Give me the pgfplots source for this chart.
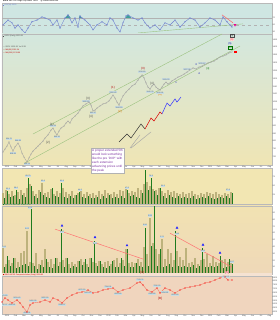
\documentclass[border=0pt]{standalone}
\usepackage{pgfplots}
\pgfplotsset{compat=1.18}
\usepackage{fontspec}
\setmainfont{Liberation Sans}
\definecolor{oscbg}{HTML}{CFE6E2}
\definecolor{pricetop}{HTML}{D3E7DE}
\definecolor{pricebot}{HTML}{EFE5B4}
\definecolor{vol1bg}{HTML}{F2E6B2}
\definecolor{vol2top}{HTML}{F1E2B2}
\definecolor{vol2bot}{HTML}{EFD8B8}
\definecolor{redbg}{HTML}{F0D5BE}
\definecolor{oscline}{HTML}{6F7FD0}
\definecolor{oscfill}{HTML}{3E9E9A}
\definecolor{chan}{HTML}{9CC27F}
\definecolor{volgreen}{HTML}{1E7B1E}
\definecolor{vololive}{HTML}{BDB27C}
\definecolor{redline}{HTML}{F07A6A}
\definecolor{labbg}{HTML}{C9DCE2}
\definecolor{labtxt}{HTML}{4A6070}
\definecolor{boxpurple}{HTML}{7A2E9E}
\newcommand{\tf}{\fontsize{2}{2.4}\selectfont}
\newcommand{\lf}{\fontsize{1.9}{2.2}\selectfont}
\tikzset{lab/.style={font=\lf, fill=labbg, text=labtxt, inner sep=0.35pt}}
\begin{document}
\begin{tikzpicture}[x=1pt,y=1pt]
\useasboundingbox (0,0) rectangle (280,320);
\fill[white] (0,0) rectangle (280,320);
\pgfplotsset{panel/.style={scale only axis, width=270pt, xmin=2, xmax=272,
  anchor=north west, axis line style={gray!55, line width=0.3pt},
  xtick=\empty, yticklabel pos=right, tick style={draw=none},
  yticklabel style={font=\tf, text=gray!60!black, inner sep=0.5pt},
  /pgf/number format/1000 sep={}, /pgf/number format/assume math mode=true}}
% header
\node[anchor=west, font=\tf, inner sep=0] at (3,318.6) {\textbf{\$SPX} S\&P 500 Large Cap Index \ INDX \quad @ StockCharts.com};
\node[anchor=east, font=\tf, inner sep=0] at (271,314.6) {Open 1330.97 \ High 1332.82 \ Low 1325.04 \ Close 1325.83 \ Chg -5.27 (-0.40\%)};

% ---------- oscillator ----------
\begin{axis}[panel, at={(2pt,317pt)}, height=31pt, ymin=24, ymax=113, ytick={30,50,70},
  axis background/.style={fill=oscbg}]
\addplot[gray!60, line width=0.3pt] coordinates {(2,70)(272,70)};
\addplot[gray!60, dashed, line width=0.3pt] coordinates {(2,50)(272,50)};
\addplot[gray!55, line width=0.6pt] coordinates {(2,27)(272,27)};
\addplot[chan, line width=0.4pt] coordinates {(138,27)(243,53)};
\addplot[fill=oscfill, draw=oscfill, line width=0.2pt] coordinates {(65.5,70)(68,79)(70.5,70)} -- cycle;
\addplot[fill=oscfill, draw=oscfill, line width=0.2pt] coordinates {(79,70)(80,76)(81.5,70)} -- cycle;
\addplot[fill=oscfill, draw=oscfill, line width=0.2pt] coordinates {(125.5,70)(128,79)(131,70)} -- cycle;
\addplot[oscline, line width=0.4pt, mark=*, mark size=0.3pt] coordinates {
(3,50)(8,64)(12,56)(15,41)(18,50)(22,36)(25,27)(28,41)(32,59)(37,64)(42,73)(45,70)
(50,64)(53,50)(57,64)(60,41)(65,70)(68,79)(72,56)(75,70)(78,44)(80,76)(82,70)(85,64)
(90,50)(93,36)(97,50)(102,59)(107,50)(110,70)(113,64)(117,41)(120,30)(123,56)(126,76)
(128,79)(133,70)(138,64)(142,70)(145,56)(150,41)(155,50)(160,36)(165,56)(170,50)
(175,64)(180,44)(185,59)(190,70)(195,64)(200,44)(205,56)(210,70)(215,64)(220,50)
(223,73)(227,59)(230,50)(232,44)};
\addplot[red!60, line width=0.5pt] coordinates {(222,79)(233,56)};
\addplot[only marks, mark=triangle*, mark options={rotate=180, fill=magenta, draw=magenta}, mark size=1.2pt] coordinates {(235,50)};
\node[anchor=west, font=\lf, inner sep=0, text=oscline] at (axis cs:3,106) {\rule{1pt}{1pt} RSI(14) 58.53};
\end{axis}

% ---------- price ----------
\begin{axis}[panel, at={(2pt,286pt)}, height=131pt, ymin=648, ymax=1485,
  ytick={700,750,...,1450},
  xtick={7,15.5,24,32.4,40.9,49.4,57.8,66.3,74.8,83.2,91.7,100.2,108.6,117.1,125.6,134,142.5,151,159.4,167.9,176.4,184.8,193.3,201.8,210.2,218.7,227.2,235.6,244.1,252.6,261,269.5},
  xticklabels={2009,Feb,Mar,Apr,May,Jun,Jul,Aug,Sep,Oct,Nov,Dec,2010,Feb,Mar,Apr,May,Jun,Jul,Aug,Sep,Oct,Nov,Dec,2011,Feb,Mar,Apr,May,Jun,Jul,Aug},
  xticklabel style={font=\tf, text=gray!60!black, inner sep=0.5pt},
  axis background/.style={shade, top color=pricetop, bottom color=pricebot}]
\addplot[chan, line width=0.4pt] coordinates {(33,846)(222,1485)};
\addplot[chan, line width=0.4pt] coordinates {(25,661)(240,1408)};
\addplot[gray!75, line width=0.35pt, mark=*, mark size=0.25pt] coordinates {
(3,731)(5,750)(7,769)(9,795)(11,763)(13,737)(15,763)(18,788)(20,763)(22,724)(24,699)(27,667)
(29,693)(31,718)(33,737)(36,756)(38,769)(40,782)(43,801)(45,820)(48,840)(51,871)(53,884)
(55,859)(57,840)(59,865)(61,884)(64,897)(66,916)(68,929)(70,916)(72,942)(75,961)(78,980)
(80,999)(83,1025)(86,1038)(89,1050)(91,1031)(93,993)(95,999)(97,1012)(100,1025)(103,1038)
(106,1044)(109,1057)(111,1076)(113,1095)(115,1076)(117,1050)(119,1031)(121,1063)(123,1089)
(126,1114)(129,1133)(132,1153)(135,1165)(138,1191)(140,1210)(142,1223)(144,1204)(146,1172)
(148,1146)(150,1133)(152,1153)(154,1165)(156,1146)(158,1135)(160,1127)(162,1146)(164,1165)
(166,1178)(168,1165)(170,1172)(172,1185)(175,1197)(178,1210)(181,1217)(184,1229)(187,1242)
(190,1255)(193,1268)(196,1261)(199,1274)(202,1280)(205,1293)(208,1300)(211,1306)(214,1312)
(217,1325)(220,1338)(223,1344)(226,1351)(229,1364)(232,1370)};
% projected extended fifth
\addplot[gray!70, line width=0.45pt] coordinates {(131,756)(151,859)};
\addplot[gray!70, line width=0.45pt] coordinates {(130,756)(140,840)};
\addplot[black!80, line width=0.5pt] coordinates {(119,795)(127,846)(131,820)(141,910)(145,878)};
\addplot[red!85!black, line width=0.5pt] coordinates {(145,878)(151,948)(154,929)(160,987)(162,974)};
\addplot[blue!80, line width=0.5pt] coordinates {(162,974)(167,1044)(170,1025)(175,1070)(177,1050)(181,1082)};
% wave labels
\node[font=\fontsize{3}{3}\selectfont, text=gray!60!black] at (axis cs:52,905) {[1]};
\node[font=\fontsize{3}{3}\selectfont, text=gray!60!black] at (axis cs:48,790) {[2]};
\node[font=\fontsize{3}{3}\selectfont, text=gray!60!black] at (axis cs:88,1070) {[3]};
\node[font=\fontsize{3}{3}\selectfont, text=gray!60!black] at (axis cs:91,955) {[4]};
\node[font=\fontsize{3}{3}\selectfont, text=red!70!black] at (axis cs:113,1140) {(1)};
\node[font=\fontsize{3}{3}\selectfont, text=orange!90!black] at (axis cs:120,990) {(2)};
\node[font=\fontsize{3}{3}\selectfont, text=red!70!black] at (axis cs:143,1262) {(3)};
\node[font=\fontsize{3}{3}\selectfont, text=gray!60!black] at (axis cs:152,1165) {[4]};
\node[font=\fontsize{3}{3}\selectfont, text=orange!90!black] at (axis cs:160,1095) {(4)};
\node[font=\fontsize{2.6}{3}\selectfont, text=blue!70!black] at (axis cs:176,1172) {1};
\node[font=\fontsize{2.6}{3}\selectfont, text=blue!70!black] at (axis cs:196,1292) {3};
\node[font=\fontsize{2.6}{3}\selectfont, text=blue!70!black] at (axis cs:199,1232) {4};
\node[font=\fontsize{2.6}{3}\selectfont, text=green!45!black] at (axis cs:208,1262) {[ii]};
\node[font=\fontsize{2.6}{3}\selectfont, text=green!45!black, draw=green!45!black, inner sep=0.3pt] at (axis cs:230,1395) {(iv)};
\node[font=\fontsize{2.6}{3}\selectfont, text=blue!70!black] at (axis cs:230,1425) {(5)};
\node[font=\fontsize{2.6}{3}\selectfont, text=red!70, fill=red!15, inner sep=0.3pt] at (axis cs:232,1448) {(b)};
\node[font=\fontsize{2.6}{3}\selectfont, text=gray!50!black, draw=gray!60!black, inner sep=0.3pt] at (axis cs:232,1472) {[5]};
\addplot[only marks, mark=square*, mark options={fill=red, draw=red}, mark size=0.9pt] coordinates {(235,1372)};
% price labels
\node[lab] at (axis cs:9,812) {934.70};
\node[lab] at (axis cs:13,722) {818.69};
\node[lab] at (axis cs:18,805) {944.69};
\node[lab] at (axis cs:27,655) {666.79};
\node[lab] at (axis cs:53,900) {956.23};
\node[lab] at (axis cs:57,825) {869.32};
\node[lab] at (axis cs:86,1054) {1080.15};
\node[lab] at (axis cs:93,978) {991.97};
\node[lab] at (axis cs:113,1112) {1150.45};
\node[lab] at (axis cs:119,1016) {1044.50};
\node[lab] at (axis cs:142,1240) {1219.80};
\node[lab] at (axis cs:150,1117) {1040.78};
\node[lab] at (axis cs:160,1111) {1010.91};
\node[lab] at (axis cs:166,1195) {1131.23};
\node[lab] at (axis cs:187,1259) {1227.08};
\node[lab] at (axis cs:202,1297) {1276.17};
\node[anchor=west, font=\lf, inner sep=0, text=gray!60!black] at (axis cs:3,1470) {\rule{1pt}{1pt} \$SPX (Daily) 1325.83};
\node[anchor=west, font=\lf, inner sep=0, text=gray!60!black] at (axis cs:3,1402) {--- \$SPX 1325.83 \ Vol 3.2B};
\node[anchor=west, font=\lf, inner sep=0, text=red!75!black] at (axis cs:3,1383) {--- MA(50) 1311.34};
\node[anchor=west, font=\lf, inner sep=0, text=red!75!black] at (axis cs:3,1364) {--- MA(200) 1213.96};
\end{axis}

% strip between volume panels
\fill[vol1bg!80!white] (2,115) rectangle (272,116);

% ---------- volume 1 ----------
\begin{axis}[panel, at={(2pt,152pt)}, height=36pt, ymin=0, ymax=100, ytick={25,50,75},
  axis background/.style={fill=vol1bg}]
\addplot[ycomb, vololive, line width=1.15pt] coordinates {
(3,30)(6,38)(9,28)(12,35)(15,25)(18,32)(21,40)(24,30)(27,45)(30,55)
(33,35)(36,28)(39,40)(42,58)(45,30)(48,33)(51,42)(54,28)(57,36)(60,30)
(63,45)(66,32)(69,28)(72,35)(75,26)(78,30)(81,38)(84,27)(87,33)(90,29)
(93,31)(96,26)(99,35)(102,28)(105,40)(108,30)(111,27)(114,33)(117,28)(120,38)
(123,35)(126,42)(129,30)(132,36)(135,33)(138,45)(141,38)(144,55)(147,60)(150,50)
(153,42)(156,38)(159,45)(162,35)(165,30)(168,40)(171,33)(174,37)(177,30)(180,28)
(183,32)(186,27)(189,30)(192,35)(195,29)(198,26)(201,31)(204,28)(207,33)(210,30)
(213,27)(216,32)(219,29)(222,25)(225,30)(228,28)(231,34)};
\addplot[ycomb, volgreen, line width=1.15pt] coordinates {
(4.5,18)(7.5,36)(10.5,20)(13.5,22)(16.5,39)(19.5,15)(22.5,25)(25.5,20)(28.5,72)(31.5,50)
(34.5,22)(37.5,18)(40.5,33)(43.5,25)(46.5,20)(49.5,17)(52.5,44)(55.5,22)(58.5,20)(61.5,58)
(64.5,20)(67.5,16)(70.5,22)(73.5,18)(76.5,25)(79.5,33)(82.5,20)(85.5,17)(88.5,22)(91.5,18)
(94.5,16)(97.5,20)(100.5,15)(103.5,22)(106.5,18)(109.5,24)(112.5,17)(115.5,20)(118.5,16)(121.5,22)
(124.5,18)(127.5,39)(130.5,22)(133.5,25)(136.5,20)(139.5,18)(142.5,30)(145.5,95)(148.5,40)(151.5,72)
(154.5,35)(157.5,25)(160.5,44)(163.5,22)(166.5,18)(169.5,25)(172.5,20)(175.5,17)(178.5,22)(181.5,18)
(184.5,20)(187.5,16)(190.5,18)(193.5,22)(196.5,15)(199.5,18)(202.5,20)(205.5,16)(208.5,22)(211.5,17)
(214.5,15)(217.5,18)(220.5,20)(223.5,16)(226.5,22)(229.5,18)(232.5,30)};
\node[lab] at (axis cs:28,78) {85.70};
\node[lab] at (axis cs:8,42) {52.1};
\node[lab] at (axis cs:16,45) {58.0};
\node[lab] at (axis cs:43,64) {62.6};
\node[lab] at (axis cs:62,64) {61.9};
\node[lab] at (axis cs:80,39) {44.2};
\node[lab] at (axis cs:127,45) {47.5};
\node[lab] at (axis cs:151,78) {79.3};
\node[lab] at (axis cs:163,50) {51.2};
\node[lab] at (axis cs:228,38) {37.8};
\end{axis}
\node[anchor=west, font=\lf, inner sep=0, text=volgreen] at (3,115.2) {\rule{1pt}{1pt} \$NYUPV:\$NYDNV (Daily) 2.94};

% ---------- volume 2 ----------
\begin{axis}[panel, at={(2pt,114pt)}, height=68pt, ymin=0, ymax=100, ytick={10,20,...,90},
  axis background/.style={shade, top color=vol2top, bottom color=vol2bot}]
\addplot[ycomb, vololive, line width=1.15pt] coordinates {
(3,38)(6,14)(9,20)(12,16)(15,24)(18,18)(21,31)(24,34)(27,63)(30,18)
(33,16)(36,31)(39,14)(42,20)(45,37)(48,18)(51,22)(54,15)(57,24)(60,18)
(63,20)(66,24)(69,15)(72,18)(75,14)(78,19)(81,22)(84,17)(87,15)(90,24)
(93,18)(96,16)(99,19)(102,14)(105,17)(108,19)(111,15)(114,20)(117,24)(120,16)
(123,20)(126,37)(129,16)(132,18)(135,16)(138,22)(141,18)(144,40)(147,30)(150,82)
(153,45)(156,37)(159,30)(162,51)(165,22)(168,37)(171,31)(174,20)(177,34)(180,25)
(183,20)(186,38)(189,16)(192,18)(195,24)(198,15)(201,20)(204,22)(207,29)(210,16)
(213,26)(216,18)(219,16)(222,20)(225,22)(228,17)(231,18)};
\addplot[ycomb, volgreen, line width=1.15pt] coordinates {
(4.5,10)(7.5,26)(10.5,12)(13.5,24)(16.5,9)(19.5,11)(22.5,13)(25.5,14)(28.5,12)(31.5,96)
(34.5,12)(37.5,8)(40.5,13)(43.5,10)(46.5,22)(49.5,11)(52.5,9)(55.5,24)(58.5,12)(61.5,66)
(64.5,10)(67.5,24)(70.5,9)(73.5,12)(76.5,11)(79.5,19)(82.5,13)(85.5,22)(88.5,10)(91.5,24)
(94.5,49)(97.5,12)(100.5,19)(103.5,10)(106.5,9)(109.5,12)(112.5,19)(115.5,11)(118.5,10)(121.5,24)
(124.5,12)(127.5,37)(130.5,10)(133.5,11)(136.5,16)(139.5,12)(142.5,11)(145.5,68)(148.5,12)(151.5,41)
(154.5,100)(157.5,12)(160.5,37)(163.5,11)(166.5,12)(169.5,14)(172.5,10)(175.5,63)(178.5,12)(181.5,11)
(184.5,12)(187.5,10)(190.5,11)(193.5,13)(196.5,9)(199.5,12)(202.5,38)(205.5,10)(208.5,11)(211.5,12)
(214.5,10)(217.5,12)(220.5,26)(223.5,9)(226.5,11)(229.5,22)(232.5,14)};
\addplot[red!55, line width=0.5pt] coordinates {(55,66)(143,22)};
\addplot[red!55, line width=0.5pt] coordinates {(170,60)(232,10)};
\addplot[only marks, mark=triangle*, mark options={fill=blue!85, draw=blue!85}, mark size=1.1pt] coordinates {(62,71)(95,54)(127,42)(177,68)(203,43)(220,31)};
\node[lab] at (axis cs:30,97) {4.21};
\node[lab] at (axis cs:4,40) {1.92};
\node[lab] at (axis cs:27,67) {3.02};
\node[lab] at (axis cs:62,62) {3.17};
\node[lab] at (axis cs:95,45) {2.61};
\node[lab] at (axis cs:145,72) {3.30};
\node[lab] at (axis cs:150,86) {3.95};
\node[lab] at (axis cs:162,55) {2.70};
\node[lab] at (axis cs:177,59) {2.99};
\node[lab] at (axis cs:203,34) {2.02};
\node[lab] at (axis cs:232,18) {1.57};
\end{axis}
\fill[redbg!70!white] (2,44) rectangle (272,47);
\node[anchor=west, font=\lf, inner sep=0, text=red!80!black] at (3,45.3) {\rule{1pt}{1pt} \$NYA NYSE Composite Index (Daily) 8311.83};
\node[font=\fontsize{3}{3}\selectfont, text=red!70!black] at (142,47.5) {[4]};
\node[font=\fontsize{3}{3}\selectfont, text=red!60!black, fill=red!15, inner sep=0.3pt] at (227,47.5) {[5]};

% ---------- red index panel ----------
\begin{axis}[panel, at={(2pt,44pt)}, height=38pt, ymin=3740, ymax=8680, ytick={4000,4500,...,8500},
  xtick={7,15.5,24,32.4,40.9,49.4,57.8,66.3,74.8,83.2,91.7,100.2,108.6,117.1,125.6,134,142.5,151,159.4,167.9,176.4,184.8,193.3,201.8,210.2,218.7,227.2,235.6,244.1,252.6,261,269.5},
  xticklabels={2009,Feb,Mar,Apr,May,Jun,Jul,Aug,Sep,Oct,Nov,Dec,2010,Feb,Mar,Apr,May,Jun,Jul,Aug,Sep,Oct,Nov,Dec,2011,Feb,Mar,Apr,May,Jun,Jul,Aug},
  xticklabel style={font=\tf, text=gray!60!black, inner sep=0.5pt},
  axis background/.style={fill=redbg}]
\addplot[redline, line width=0.4pt, mark=*, mark size=0.3pt, mark options={fill=red, draw=red}] coordinates {
(2,5300)(5,5820)(8,5560)(12,5170)(17,5560)(20,5170)(23,4650)(27,4000)(30,4910)(33,5170)
(40,5300)(45,5560)(50,5300)(53,5820)(58,5560)(62,5170)(67,5820)(72,6210)(77,6470)(82,6600)
(88,6860)(93,6470)(98,6600)(103,6860)(108,6990)(113,7120)(118,6600)(123,6860)(130,7120)
(137,7770)(140,7900)(143,7510)(147,6860)(152,6600)(157,7120)(160,6470)(165,7120)(170,6860)
(175,6470)(180,6860)(185,7120)(190,7250)(195,7380)(200,7510)(205,7770)(210,7900)(215,8160)
(220,8420)(225,8550)(228,8160)(232,8160)};
\node[lab] at (axis cs:4,6150) {6101.60};
\node[lab] at (axis cs:4,4950) {5212.07};
\node[lab] at (axis cs:12,4900) {4996.81};
\node[lab] at (axis cs:17,5830) {5611.43};
\node[lab] at (axis cs:27,3900) {4226.31};
\node[lab] at (axis cs:33,5450) {5400.28};
\node[lab] at (axis cs:45,5850) {5822.90};
\node[lab] at (axis cs:62,4900) {5288.37};
\node[lab] at (axis cs:82,6900) {6670.50};
\node[lab] at (axis cs:88,6450) {6421.10};
\node[lab] at (axis cs:108,7300) {7284.01};
\node[lab] at (axis cs:118,6350) {6603.80};
\node[lab] at (axis cs:140,8150) {7743.74};
\node[lab] at (axis cs:152,6350) {6355.83};
\node[lab] at (axis cs:157,7400) {7030.29};
\node[lab] at (axis cs:165,6550) {6434.81};
\node[lab] at (axis cs:175,6250) {6622.18};
\node[lab] at (axis cs:226,8550) {8718.25};
\node[font=\fontsize{3}{3}\selectfont, text=red!70!black] at (axis cs:160,5700) {[B]};
\end{axis}

% annotation box
\node[draw=gray!60, fill=white, text=boxpurple, font=\fontsize{3.1}{4.1}\selectfont,
  align=left, inner sep=1pt, anchor=north west] at (91,172)
  {A proper extended 5th\\would look something\\like the pre 'DXP' with\\each extension\\advancing prices until\\the peak};
\end{tikzpicture}
\end{document}
